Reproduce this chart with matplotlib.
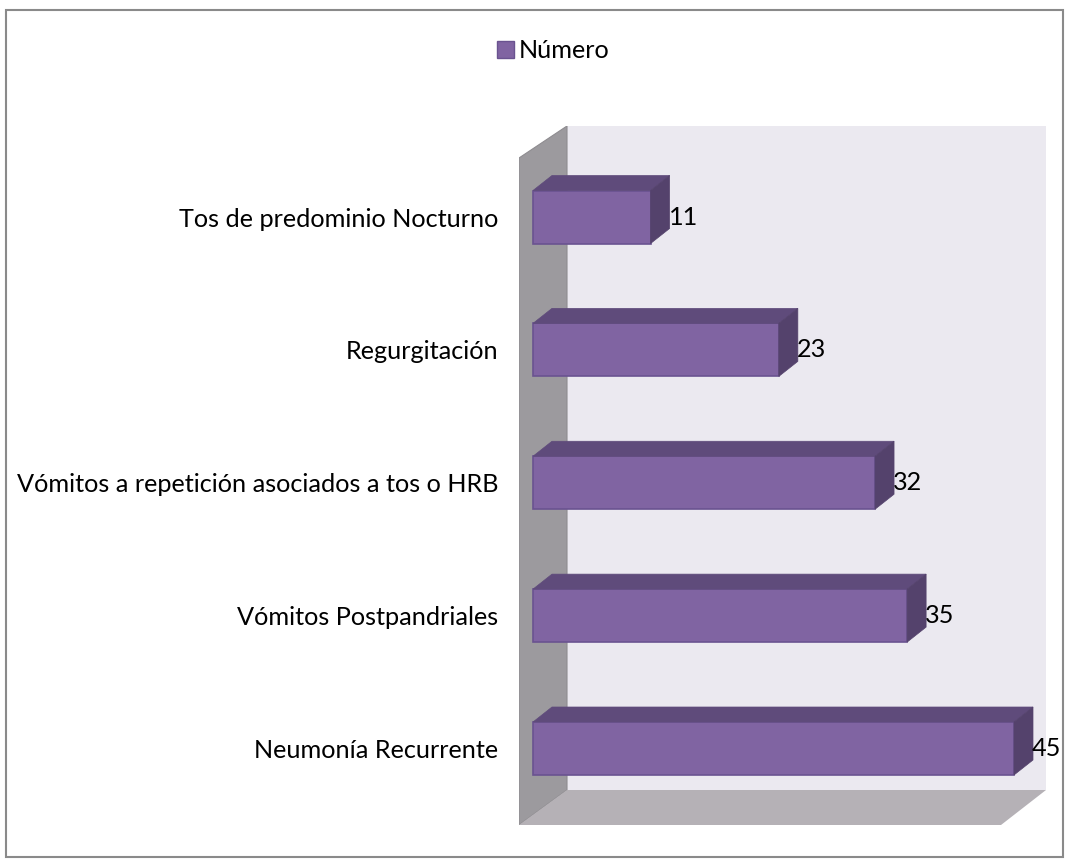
import matplotlib
matplotlib.use("Agg")
import matplotlib.pyplot as plt
from matplotlib.patches import Polygon, Rectangle, Patch

plt.rcParams['font.family'] = ['Lato', 'DejaVu Sans']

# datos
categorias = ['Neumonía Recurrente', 'Vómitos Postpandriales',
              'Vómitos a repetición asociados a tos o HRB',
              'Regurgitación', 'Tos de predominio Nocturno']
valores = [45, 35, 32, 23, 11]
serie = 'Número'

# colores
c_frente = '#8064A2'
c_borde = '#6A5390'
c_arriba = '#5F4B7B'
c_lado = '#54426C'
c_fondo = '#EBE9F0'
c_pared = '#9C9A9E'
c_piso = '#B5B1B6'
fs = 18.2

W, H = 1069, 867
fig = plt.figure(figsize=(W / 100, H / 100), dpi=100)

# ejes en pixeles: izquierda 519, derecha 1046, arriba 126, abajo 825
L, R, T, B = 519, 1046, 126, 825
ax = fig.add_axes([L / W, 1 - B / H, (R - L) / W, (B - T) / H])

kx = (1014 - 533) / 45.0      # px por unidad
ky = (748.5 - 217) / 4.0      # px por categoria
x_px = lambda px: (px - 533) / kx
y_px = lambda py: (748.5 - py) / ky

ax.set_xlim(x_px(L), x_px(R))
ax.set_ylim(y_px(B), y_px(T))

# paredes 3D
xw = x_px(567)
yb = y_px(790)
ax.add_patch(Polygon([(xw, yb), (x_px(R), yb), (x_px(R), y_px(T)), (xw, y_px(T))],
                     closed=True, fc=c_fondo, ec='none', zorder=1))
ax.add_patch(Polygon([(x_px(L), y_px(158)), (xw, y_px(T)), (xw, yb), (x_px(L), y_px(B))],
                     closed=True, fc=c_pared, ec='#8E8C90', lw=0.8, zorder=1))
ax.add_patch(Polygon([(x_px(L), y_px(B)), (xw, yb), (x_px(R), yb), (x_px(1001), y_px(B))],
                     closed=True, fc=c_piso, ec='none', zorder=1))

# barras
alto = 53 / ky
dx = 19 / kx
dy = 15 / ky
pos = list(range(len(categorias)))
ax.barh(pos, valores, height=alto, left=0, color=c_frente, edgecolor=c_borde,
        linewidth=1.2, zorder=3)
for p, v in zip(pos, valores):
    top = p + alto / 2
    bot = p - alto / 2
    ax.add_patch(Polygon([(0, top), (v, top), (v + dx, top + dy), (dx, top + dy)],
                         closed=True, fc=c_arriba, ec=c_arriba, lw=0.5, zorder=3))
    ax.add_patch(Polygon([(v, bot), (v + dx, bot + dy), (v + dx, top + dy), (v, top)],
                         closed=True, fc=c_lado, ec=c_lado, lw=0.5, zorder=3))
    ax.text(v + dx - 0.1, p, str(v), ha='left', va='center', fontsize=fs,
            color='black', zorder=4)

ax.set_yticks(pos)
ax.set_yticklabels(categorias, fontsize=fs)
ax.tick_params(axis='y', length=0, pad=15)
ax.set_xticks([])
for s in ax.spines.values():
    s.set_visible(False)
ax.patch.set_visible(False)

# leyenda
fig.legend(handles=[Patch(fc=c_frente, ec=c_borde, label=serie)],
           loc='center left', bbox_to_anchor=(487 / W, 1 - 51 / H),
           frameon=False, fontsize=fs, handlelength=0.65, handleheight=0.65,
           handletextpad=0.2, borderaxespad=0)

# marco
fig.patches.append(Rectangle((6 / W, 1 - 857 / H), (1063 - 6) / W, (857 - 10) / H,
                             transform=fig.transFigure, fill=False,
                             ec='#8A8A8A', lw=1.5))

fig.savefig('out.png', dpi=100)
